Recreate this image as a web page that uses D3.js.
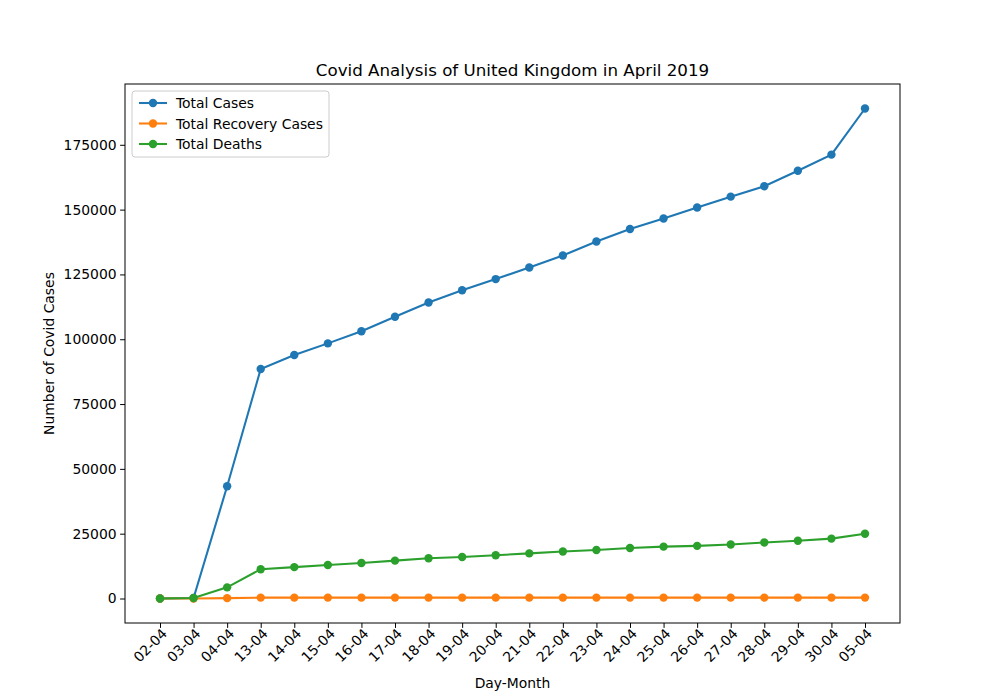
<!DOCTYPE html>
<html><head><meta charset="utf-8">
<script src="https://cdn.jsdelivr.net/npm/d3@7"></script>
<style>body{margin:0;background:#fff}text{font-family:"DejaVu Sans",sans-serif}</style>
</head><body><svg id="chart" width="1000" height="700"></svg>
<script>
let days = ['02-04','03-04','04-04','13-04','14-04','15-04','16-04','17-04','18-04','19-04','20-04','21-04','22-04','23-04','24-04','25-04','26-04','27-04','28-04','29-04','30-04','05-04']
let totalCases = [0,200,43300,88500,93900,98400,103100,108700,114200,118900,123200,127700,132300,137700,142500,146600,150800,155000,159000,165000,171200,189000]
let recovered = [0,0,135,344,344,344,344,344,344,344,344,344,344,344,344,344,344,344,344,344,344,344]
let deaths = [0,200,4300,11300,12100,12900,13700,14600,15500,16000,16700,17400,18100,18700,19500,20000,20300,20800,21600,22300,23100,25000]
let yTicks = [0,25000,50000,75000,100000,125000,150000,175000]

let series = [
  {name:'Total Cases', values: totalCases, color:'#1f77b4'},
  {name:'Total Recovery Cases', values: recovered, color:'#ff7f0e'},
  {name:'Total Deaths', values: deaths, color:'#2ca02c'}
]

let mLeft = 125, mRight = 900, mTop = 84, mBottom = 623
let svg = d3.select('#chart')

let x = d3.scalePoint().domain(days).range([160, 865])
let y = d3.scaleLinear().domain([-9450, 198450]).range([mBottom, mTop])

let xAxis = svg.append('g').attr('transform', `translate(0,${mBottom})`)
    .call(d3.axisBottom(x).tickSize(4.9).tickPadding(3))
xAxis.selectAll('text').attr('font-size', 13.9).attr('fill', '#000')
    .attr('text-anchor', 'end').attr('dx', '-0.2em').attr('dy', '0.4em')
    .attr('transform', 'rotate(-45)')
let yAxis = svg.append('g').attr('transform', `translate(${mLeft},0)`)
    .call(d3.axisLeft(y).tickValues(yTicks).tickFormat(d3.format('d')).tickSize(4.9).tickPadding(3.5))
yAxis.selectAll('text').attr('font-size', 13.9).attr('fill', '#000')
svg.selectAll('.domain').remove()
svg.append('rect').attr('x', mLeft).attr('y', mTop).attr('width', mRight-mLeft).attr('height', mBottom-mTop)
    .attr('fill', 'none').attr('stroke', '#000').attr('stroke-width', 1)

let line = d3.line().x((d, i) => x(days[i])).y(d => y(d))
series.forEach(s => {
  svg.append('path').datum(s.values).attr('d', line)
     .attr('fill', 'none').attr('stroke', s.color).attr('stroke-width', 2.08)
  svg.selectAll(null).data(s.values).enter().append('circle')
     .attr('cx', (d, i) => x(days[i])).attr('cy', d => y(d)).attr('r', 4.2).attr('fill', s.color)
})

svg.append('text').attr('x', (mLeft+mRight)/2).attr('y', 76).attr('text-anchor', 'middle')
   .attr('font-size', 16.7).text('Covid Analysis of United Kingdom in April 2019')
svg.append('text').attr('x', (mLeft+mRight)/2).attr('y', 688).attr('text-anchor', 'middle')
   .attr('font-size', 13.9).text('Day-Month')
svg.append('text').attr('transform', `translate(54,${(mTop+mBottom)/2}) rotate(-90)`).attr('text-anchor', 'middle')
   .attr('font-size', 13.9).text('Number of Covid Cases')

let legend = svg.append('g')
legend.append('rect').attr('x', 132).attr('y', 91).attr('width', 197).attr('height', 66).attr('rx', 3)
   .attr('fill', '#fff').attr('fill-opacity', 0.8).attr('stroke', '#ccc')
series.forEach((s, i) => {
  let ly = 103 + i * 20.5
  legend.append('line').attr('x1', 139).attr('x2', 167).attr('y1', ly).attr('y2', ly)
     .attr('stroke', s.color).attr('stroke-width', 2.08)
  legend.append('circle').attr('cx', 153).attr('cy', ly).attr('r', 4.2).attr('fill', s.color)
  legend.append('text').attr('x', 176).attr('y', ly + 5).attr('font-size', 13.9).text(s.name)
})
</script></body></html>
